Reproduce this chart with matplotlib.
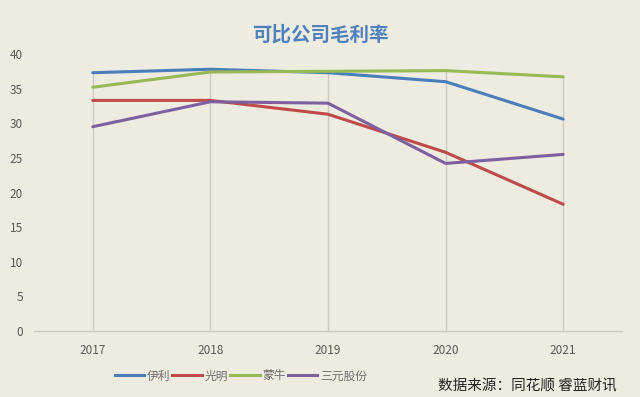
import matplotlib
matplotlib.use("Agg")
import matplotlib.pyplot as plt
from matplotlib.lines import Line2D

plt.rcParams['font.family'] = ['Noto Sans CJK SC', 'DejaVu Sans']

years = ["2017", "2018", "2019", "2020", "2021"]
yili = [37.3, 37.8, 37.3, 36.0, 30.6]
guangming = [33.3, 33.3, 31.3, 25.8, 18.3]
mengniu = [35.2, 37.4, 37.5, 37.6, 36.7]
sanyuan = [29.5, 33.1, 32.9, 24.2, 25.5]
series_names = ["伊利", "光明", "蒙牛", "三元股份"]
colors = ["#4A7EBB", "#BE4B48", "#98B954", "#7D60A0"]
yticks = [0, 5, 10, 15, 20, 25, 30, 35, 40]

bg = "#EEEBE0"
W, H = 640, 397
fig = plt.figure(figsize=(W/100, H/100), dpi=100, facecolor=bg)
ax = fig.add_axes([34/W, 1-331/H, (622-34)/W, (331-54)/H])
ax.set_facecolor(bg)

x = list(range(len(years)))
all_series = [yili, guangming, mengniu, sanyuan]
# Excel-style drop lines from the highest value at each category
tops = [max(vals) for vals in zip(*all_series)]
ax.vlines(x, 0, tops, color="#CFCBC4", lw=1, zorder=1)

for vals, c in zip(all_series, colors):
    ax.plot(x, vals, color=c, lw=2.2, solid_capstyle='round', clip_on=False, zorder=3)

ax.set_xlim(-0.5, len(years)-0.5)
ax.set_ylim(0, 40)
ax.set_xticks(x)
ax.set_xticklabels(years)
ax.set_yticks(yticks)
ax.tick_params(axis='both', length=0, labelsize=8.5, colors="#595959")
ax.tick_params(axis='x', pad=9)
ax.tick_params(axis='y', pad=8)
for s in ['top', 'right', 'left']:
    ax.spines[s].set_visible(False)
ax.spines['bottom'].set_color("#CFCBC4")
ax.spines['bottom'].set_linewidth(1)

fig.text(320/W, 1-35/H, "可比公司毛利率", ha='center', va='center', fontsize=14,
         fontweight='bold', color="#4F81BD")

handles = [Line2D([0], [0], color=c, lw=2.2) for c in colors]
leg = fig.legend(handles, series_names, loc='center left', bbox_to_anchor=(104/W, 1-376/H),
                 ncol=4, frameon=False, fontsize=8.5, handlelength=2.5, handletextpad=0.25,
                 columnspacing=0.15, labelcolor="#707070")

fig.text(617/W, 1-386/H, "数据来源：同花顺 睿蓝财讯", ha='right', va='center', fontsize=10.5,
         color="#222222")

fig.savefig("out.png", dpi=100, facecolor=bg)
